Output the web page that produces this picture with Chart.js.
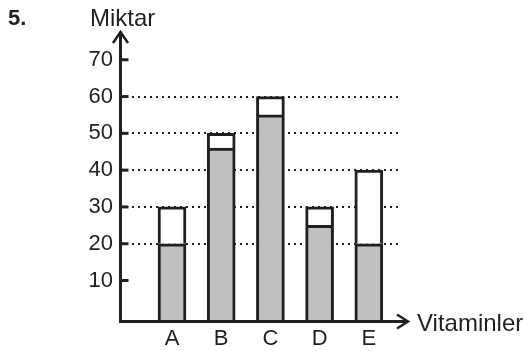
<!DOCTYPE html>
<html>
<head>
<meta charset="utf-8">
<script src="https://cdn.jsdelivr.net/npm/chart.js@4.4.0/dist/chart.umd.min.js"></script>
<style>
  html, body { margin: 0; padding: 0; background: #fff; }
</style>
</head>
<body>
<canvas id="chart" width="524" height="351"></canvas>
<script>
// Data
const categories = ["A", "B", "C", "D", "E"];
const grayPart = [20, 46, 55, 25, 20];
const whitePart = [10, 4, 5, 5, 20];
const yTicks = [10, 20, 30, 40, 50, 60, 70];
const gridValues = [20, 30, 40, 50, 60];

const ink = "#231f20";
const font = "'Liberation Sans', Arial, sans-serif";

// Axes with arrows, inner tick marks and the titles
const axisDecor = {
    id: "axisDecor",
    afterDatasetsDraw(chart) {
        const { ctx, chartArea, scales } = chart;
        const x0 = chartArea.left + 0.5;
        const y0 = chartArea.bottom + 0.5;
        ctx.save();
        ctx.strokeStyle = ink;
        ctx.lineWidth = 3;
        ctx.beginPath();
        ctx.moveTo(x0, y0 + 1.5);
        ctx.lineTo(x0, 33);
        ctx.moveTo(x0 - 1.5, y0);
        ctx.lineTo(407, y0);
        ctx.stroke();

        // inner ticks
        for (const v of yTicks) {
            const py = scales.y.getPixelForValue(v);
            ctx.beginPath();
            ctx.moveTo(x0, py);
            ctx.lineTo(x0 + 8, py);
            ctx.stroke();
        }

        // arrow heads
        ctx.lineWidth = 2.5;
        ctx.beginPath();
        ctx.moveTo(x0 - 7.5, 43);
        ctx.lineTo(x0, 32);
        ctx.lineTo(x0 + 7.5, 43);
        ctx.moveTo(397, y0 - 7);
        ctx.lineTo(408, y0);
        ctx.lineTo(397, y0 + 7);
        ctx.stroke();
        ctx.restore();
    },
    afterDraw(chart) {
        const ctx = chart.ctx;
        ctx.save();
        ctx.fillStyle = ink;
        ctx.textBaseline = "alphabetic";
        ctx.textAlign = "left";
        ctx.font = "bold 22px " + font;
        ctx.fillText("5.", 8, 25);
        ctx.font = "24px " + font;
        ctx.fillText("Miktar", 90, 26);
        ctx.fillText("Vitaminler", 417, 331);
        ctx.restore();
    }
};

new Chart(document.getElementById("chart"), {
    type: "bar",
    data: {
        datasets: [
            {
                data: categories.map((c, i) => ({ x: i + 1, y: grayPart[i] })),
                backgroundColor: "#c0c0c0",
                borderColor: ink,
                borderWidth: 3,
                base: -1,
                barThickness: 28
            },
            {
                data: categories.map((c, i) => ({ x: i + 1, y: whitePart[i] })),
                backgroundColor: "#ffffff",
                borderColor: ink,
                borderWidth: 3,
                barThickness: 28
            }
        ]
    },
    options: {
        responsive: false,
        animation: false,
        layout: { padding: { top: 34, right: 124, left: 0, bottom: 0 } },
        plugins: {
            legend: { display: false },
            tooltip: { enabled: false }
        },
        scales: {
            x: {
                type: "linear",
                stacked: true,
                offset: false,
                min: -0.057,
                max: 5.634,
                afterBuildTicks: s => { s.ticks = categories.map((c, i) => ({ value: i + 1 })); },
                afterFit: s => { s.height = 30; },
                grid: { display: false, drawTicks: false },
                border: { display: false },
                ticks: {
                    color: ink,
                    padding: 5,
                    maxRotation: 0,
                    autoSkip: false,
                    font: { family: font, size: 22 },
                    callback: v => categories[v - 1] || ""
                }
            },
            y: {
                stacked: true,
                min: -1,
                max: 77,
                afterBuildTicks: s => { s.ticks = yTicks.map(v => ({ value: v })); },
                afterFit: s => { s.width = 120; },
                grid: {
                    drawTicks: false,
                    lineWidth: 2,
                    color: c => gridValues.includes(c.tick.value) ? ink : "rgba(0,0,0,0)"
                },
                border: { display: false, dash: [2, 4] },
                ticks: {
                    color: ink,
                    padding: 7,
                    font: { family: font, size: 22 }
                }
            }
        }
    },
    plugins: [axisDecor]
});
</script>
</body>
</html>
